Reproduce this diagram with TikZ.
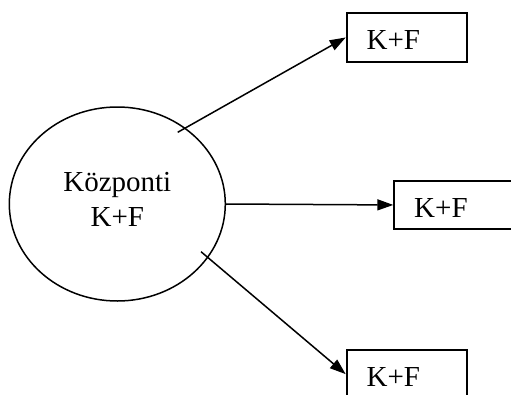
\documentclass[tikz,border=0pt]{standalone}
\usepackage{fontspec}
\setmainfont{Liberation Serif}
\usetikzlibrary{shapes.geometric,arrows.meta}
\begin{document}
\begin{tikzpicture}[x=1pt,y=-1pt,
  hub/.style={draw, line width=1.5pt, ellipse, minimum width=216pt, minimum height=194pt, inner sep=0pt},
  hubtext/.style={align=center, font=\fontsize{29}{35}\selectfont, inner sep=0pt},
  unit/.style={draw, line width=1.8pt, rectangle, minimum height=48.5pt,
    inner xsep=20pt, inner ysep=0pt, text width=80pt, align=left,
    text height=25pt, text depth=0pt, font=\fontsize{29}{35}\selectfont},
  link/.style={line width=1.5pt, -{Triangle[length=16pt,width=11pt]}}]
  \useasboundingbox (0,0) rectangle (511,394);

  % central unit
  \node[hub] (hub) at (117.3,204) {};
  \node[hubtext] (hubtext) at (117.3,199.5) {Központi\\K+F};

  % branch units
  \node[unit, anchor=north west] (top) at (345.7,12.3) {K+F};
  \node[unit, anchor=north west] (mid) at (393.3,179.8) {K+F};
  \node[unit, anchor=north west] (bot) at (345.7,349) {K+F};

  % arrow start points just inside the ellipse
  \coordinate (s1) at (177.7,132.3);
  \coordinate (s3) at (201,251.7);

  \draw[link] (s1) -- (top.west);
  \draw[link] (hub.east) -- (mid.west);
  \draw[link] (s3) -- (bot.west);
\end{tikzpicture}
\end{document}
